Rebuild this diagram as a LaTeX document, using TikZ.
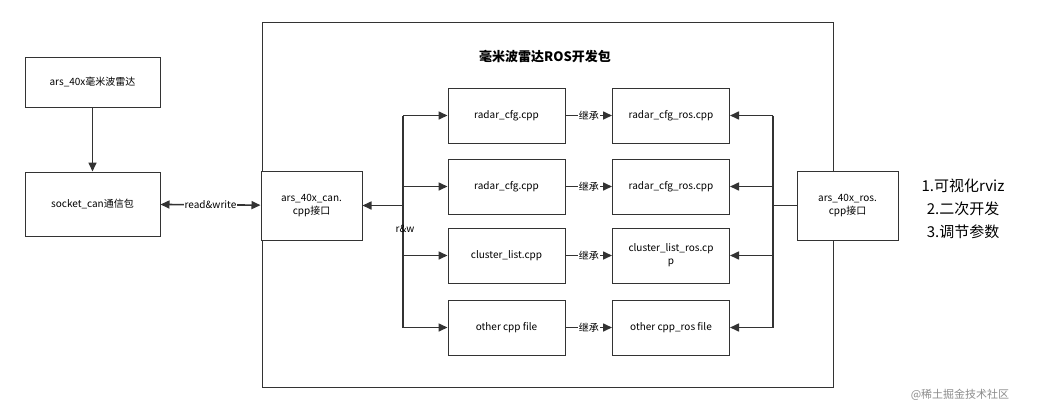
\documentclass[tikz,border=0pt]{standalone}
\usepackage{fontspec}
\setmainfont{Noto Sans CJK SC}
\usetikzlibrary{arrows.meta}
\begin{document}
\begin{tikzpicture}[x=1pt,y=-1pt,
 box/.style={draw=black!80,line width=1pt,fill=white,minimum width=117pt,minimum height=55pt,align=center,font=\fontsize{10}{13}\selectfont,inner sep=2pt},
 ln/.style={draw=black!80,line width=1.6pt},
 arr/.style={ln,-{Triangle[length=9pt,width=8pt]}},
 lab/.style={fill=white,inner sep=1pt,font=\fontsize{10}{12}\selectfont}]
\path[use as bounding box] (0,0) rectangle (1047,413);
\node[draw=black!80,line width=1pt,minimum width=571pt,minimum height=365pt] (frame) at (547.5,204.5) {};
\node[font=\bfseries\fontsize{13}{15}\selectfont] (title) at (545,57) {毫米波雷达ROS开发包};
\node[box,minimum width=135pt,minimum height=50pt] (radar) at (92.5,82) {ars\_40x毫米波雷达};
\node[box,minimum width=135pt,minimum height=64pt] (sock) at (92.5,204) {socket\_can通信包};
\node[box,minimum width=101pt,minimum height=69pt] (can) at (311.5,205.5) {ars\_40x\_can.\\cpp接口};
\node[box,minimum width=101pt,minimum height=69pt] (ros) at (847.5,205.5) {ars\_40x\_ros.\\cpp接口};
\foreach \i/\y/\a/\b in {1/115.5/radar\_cfg.cpp/radar\_cfg\_ros.cpp,2/186.5/radar\_cfg.cpp/radar\_cfg\_ros.cpp,3/255.5/cluster\_list.cpp/cluster\_list\_ros.cp\\p,4/327.5/other cpp file/other cpp\_ros file}{
 \node[box] (l\i) at (506.5,\y) {\a};
 \node[box] (r\i) at (671,\y) {\b};
 \draw[arr] (l\i) -- node[lab]{继承} (r\i);
 \coordinate (lb\i) at (403,\y);
 \coordinate (rb\i) at (773,\y);
 \draw[arr] (lb\i) -- (l\i);
 \draw[arr] (rb\i) -- (r\i);
}
\draw[ln] (lb1) -- (lb4);
\draw[ln] (rb1) -- (rb4);
\coordinate (lbc) at (403,205.5);
\coordinate (rbc) at (773,205.5);
\draw[arr] (lbc) -- (can);
\draw[ln] (ros) -- (rbc);
\node[font=\fontsize{10}{12}\selectfont] (rw) at (405,229) {r\&w};
\draw[arr] (radar) -- (sock);
\draw[ln,{Triangle[length=9pt,width=8pt]}-{Triangle[length=9pt,width=8pt]}] (sock) -- node[lab]{read\&write} (can);
\node[align=center,font=\fontsize{15}{23}\selectfont] (list) at (963,209) {1.可视化rviz\\2.二次开发\\3.调节参数};
\node[text=black!45,font=\fontsize{11}{13}\selectfont] (wm) at (960,395) {@稀土掘金技术社区};
\end{tikzpicture}
\end{document}
